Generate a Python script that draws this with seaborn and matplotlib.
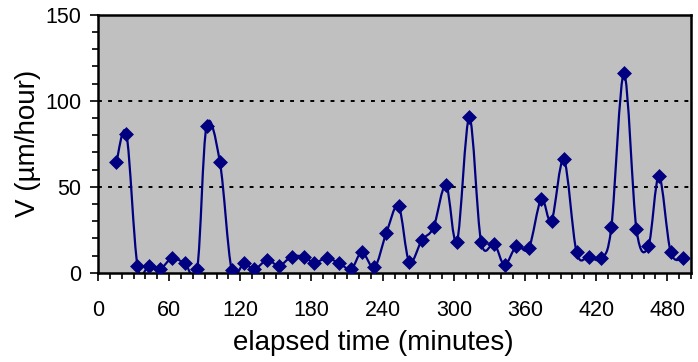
import numpy as np
import pandas as pd
import seaborn as sns
import matplotlib.pyplot as plt
from matplotlib.path import Path
from matplotlib.patches import PathPatch
from matplotlib.ticker import MultipleLocator

# elapsed time (minutes) and growth rate V (um/hour)
minutes = [15.5, 24.0, 33.3, 43.0, 52.1, 62.5, 73.2, 83.6, 91.5, 102.8,
           112.7, 123.1, 131.7, 142.8, 152.6, 163.2, 173.7, 182.2, 192.9, 203.6,
           213.4, 222.5, 233.1, 243.0, 253.4, 262.4, 273.1, 282.9, 293.4, 302.7,
           313.1, 323.0, 334.2, 342.8, 352.8, 363.2, 373.7, 382.4, 392.8, 403.5,
           413.9, 424.4, 432.8, 443.5, 454.0, 464.1, 473.0, 482.9, 493.6]
velocity = [64.2, 80.5, 4.0, 4.0, 2.0, 8.4, 5.5, 2.0, 85.3, 64.2,
            1.8, 5.5, 2.0, 7.4, 4.0, 9.3, 9.3, 5.8, 8.4, 5.5,
            2.0, 11.9, 3.1, 22.9, 38.8, 6.4, 19.0, 26.4, 51.0, 18.0,
            90.3, 18.0, 16.7, 4.5, 15.5, 14.2, 42.7, 30.2, 65.9, 11.9,
            9.3, 8.4, 26.4, 115.9, 25.2, 15.5, 56.2, 11.9, 8.4]
x_ticks = [0, 60, 120, 180, 240, 300, 360, 420, 480]
y_ticks = [0, 50, 100, 150]

df = pd.DataFrame({"minutes": minutes, "V": velocity})

sns.set_style("ticks")
plt.rcParams['font.family'] = ['Liberation Sans', 'DejaVu Sans']
plt.rcParams['text.color'] = 'black'
plt.rcParams['axes.labelcolor'] = 'black'
plt.rcParams['xtick.color'] = 'black'
plt.rcParams['ytick.color'] = 'black'

navy = "#000080"
fig, ax = plt.subplots(figsize=(6.98, 3.62), dpi=100)
fig.subplots_adjust(left=0.1404, right=0.99, bottom=0.2467, top=0.959)
ax.set_facecolor("#C0C0C0")

# smoothed line like the spreadsheet's (Catmull-Rom as cubic Bezier)
pts = df[["minutes", "V"]].to_numpy()
verts = [pts[0]]
codes = [Path.MOVETO]
for i in range(len(pts) - 1):
    p0 = pts[i - 1] if i > 0 else pts[i]
    p1 = pts[i]
    p2 = pts[i + 1]
    p3 = pts[i + 2] if i + 2 < len(pts) else pts[i + 1]
    verts += [p1 + (p2 - p0) / 6, p2 - (p3 - p1) / 6, p2]
    codes += [Path.CURVE4] * 3
ax.add_patch(PathPatch(Path(verts, codes), facecolor="none", edgecolor=navy, lw=1.6, zorder=2))

sns.scatterplot(data=df, x="minutes", y="V", marker="D", s=50, color=navy,
                edgecolor=navy, linewidth=0.5, ax=ax, zorder=3, legend=False)

for yv in [50, 100]:
    ax.axhline(yv, color="black", lw=1.4, ls=(0, (2, 3.2)), zorder=1)

ax.set_xlim(0, 500)
ax.set_ylim(0, 150)
ax.set_xticks(x_ticks)
ax.set_yticks(y_ticks)
ax.xaxis.set_minor_locator(MultipleLocator(10))
ax.yaxis.set_minor_locator(MultipleLocator(10))
ax.tick_params(axis="both", which="major", direction="out", length=6, width=1.2,
               labelsize=15.5, color="black", labelcolor="black")
ax.tick_params(axis="x", which="major", pad=14)
ax.tick_params(axis="y", which="major", pad=6)
ax.tick_params(axis="both", which="minor", direction="out", length=4, width=1.2, color="black")

for s in ax.spines.values():
    s.set_visible(True)
    s.set_linewidth(1.8)
    s.set_color("black")

ax.set_xlabel("elapsed time (minutes)", fontsize=20, va="center", color="black")
ax.set_ylabel("V (µm/hour)", fontsize=20, va="center", color="black")
ax.xaxis.set_label_coords(0.465, -0.272)
ax.yaxis.set_label_coords(-0.118, 0.5)

fig.savefig("out.png", dpi=100)
